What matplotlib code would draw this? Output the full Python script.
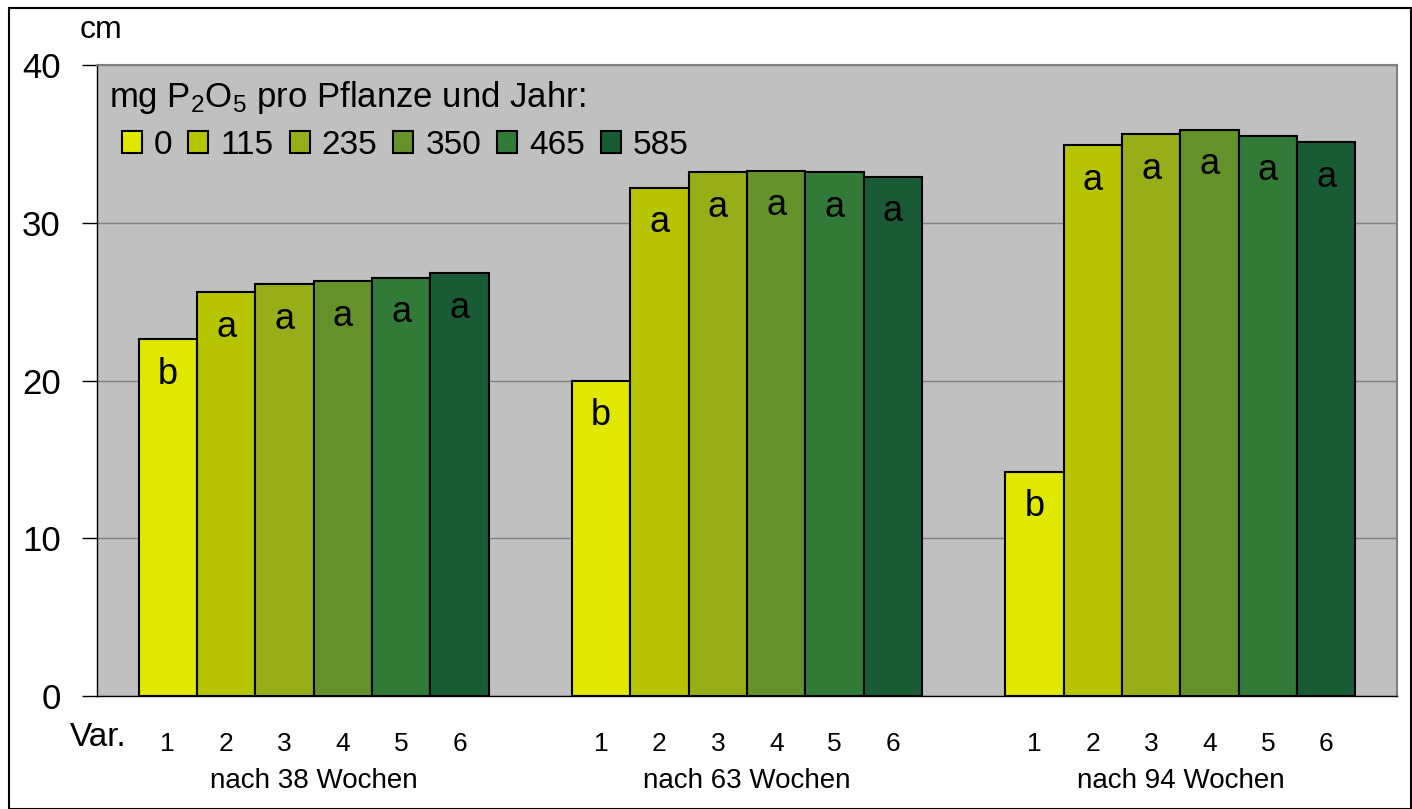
import numpy as np
import matplotlib
matplotlib.use("Agg")
import matplotlib.pyplot as plt
from matplotlib.patches import Rectangle

plt.rcParams["font.family"] = ["Liberation Sans", "DejaVu Sans"]
plt.rcParams["mathtext.fontset"] = "custom"
plt.rcParams["mathtext.rm"] = "Liberation Sans"

# ---------------------------------------------------------------- data
groups = ["nach 38 Wochen", "nach 63 Wochen", "nach 94 Wochen"]
doses = ["0", "115", "235", "350", "465", "585"]
var_labels = ["1", "2", "3", "4", "5", "6"]
heights = [
    [22.6, 25.6, 26.1, 26.3, 26.5, 26.8],   # 38 Wochen
    [20.0, 32.2, 33.2, 33.3, 33.2, 32.9],   # 63 Wochen
    [14.2, 34.9, 35.6, 35.9, 35.5, 35.1],   # 94 Wochen
]
letters = [
    ["b", "a", "a", "a", "a", "a"],
    ["b", "a", "a", "a", "a", "a"],
    ["b", "a", "a", "a", "a", "a"],
]
colors = ["#E0E800", "#B7C400", "#97AE19", "#65912A", "#327A38", "#195B34"]

# ---------------------------------------------------------------- figure
W, H = 1412, 809
fig = plt.figure(figsize=(W / 100, H / 100), dpi=100)
ax = fig.add_axes([97 / W, 1 - 696 / H, 1300 / W, 631 / H])
ax.set_facecolor("#C0C0C0")

bw = 0.8083 / 6
xs_all, xl_all = [], []
for g, vals in enumerate(heights):
    for i, v in enumerate(vals):
        x = g + (i - 2.5) * bw
        ax.bar(x, v, width=bw, color=colors[i], edgecolor="black", lw=1.5,
               zorder=3, label=doses[i] if g == 0 else None)
        ax.annotate(letters[g][i], (x, v), xytext=(0, -32), textcoords="offset points",
                    ha="center", va="baseline", fontsize=26, zorder=4)
        xs_all.append(x)
        xl_all.append(var_labels[i])
    ax.text(g, -0.135, groups[g], transform=ax.get_xaxis_transform(),
            ha="center", va="center", fontsize=20)

ax.set_xlim(-0.5, 2.5)
ax.set_ylim(0, 40)
ax.set_yticks([0, 10, 20, 30, 40])
ax.set_xticks(xs_all)
ax.set_xticklabels(xl_all)
ax.tick_params(axis="x", length=0, pad=26, labelsize=19)
ax.tick_params(axis="y", length=11, width=1, pad=15, labelsize=25)
ax.grid(axis="y", color="#808080", lw=1, zorder=1)
ax.set_axisbelow(True)
for s in ("top", "right"):
    ax.spines[s].set_color("#808080")
    ax.spines[s].set_linewidth(1.5)
for s in ("left", "bottom"):
    ax.spines[s].set_color("black")
    ax.spines[s].set_linewidth(1)

ax.text(-0.021, -0.065, "Var.", transform=ax.transAxes, ha="left", va="center", fontsize=24)
ax.text(-0.013, 1.055, "cm", transform=ax.transAxes, ha="left", va="center", fontsize=23)

ax.text(0.009, 0.949, r"mg P$\mathregular{_2}$O$\mathregular{_5}$ pro Pflanze und Jahr:",
        transform=ax.transAxes, ha="left", va="center", fontsize=25)
ax.legend(loc="center left", bbox_to_anchor=(0.0192, 0.873), ncol=6, frameon=False,
          fontsize=24, handlelength=0.6, handleheight=0.65, handletextpad=0.36,
          columnspacing=0.48, borderaxespad=0, borderpad=0)

fig.add_artist(Rectangle((9 / W, 0.5 / H), 1402 / W, (H - 8.5) / H,
                         transform=fig.transFigure, fill=False, lw=1.5,
                         edgecolor="black"))

fig.savefig("out.png", dpi=100)
